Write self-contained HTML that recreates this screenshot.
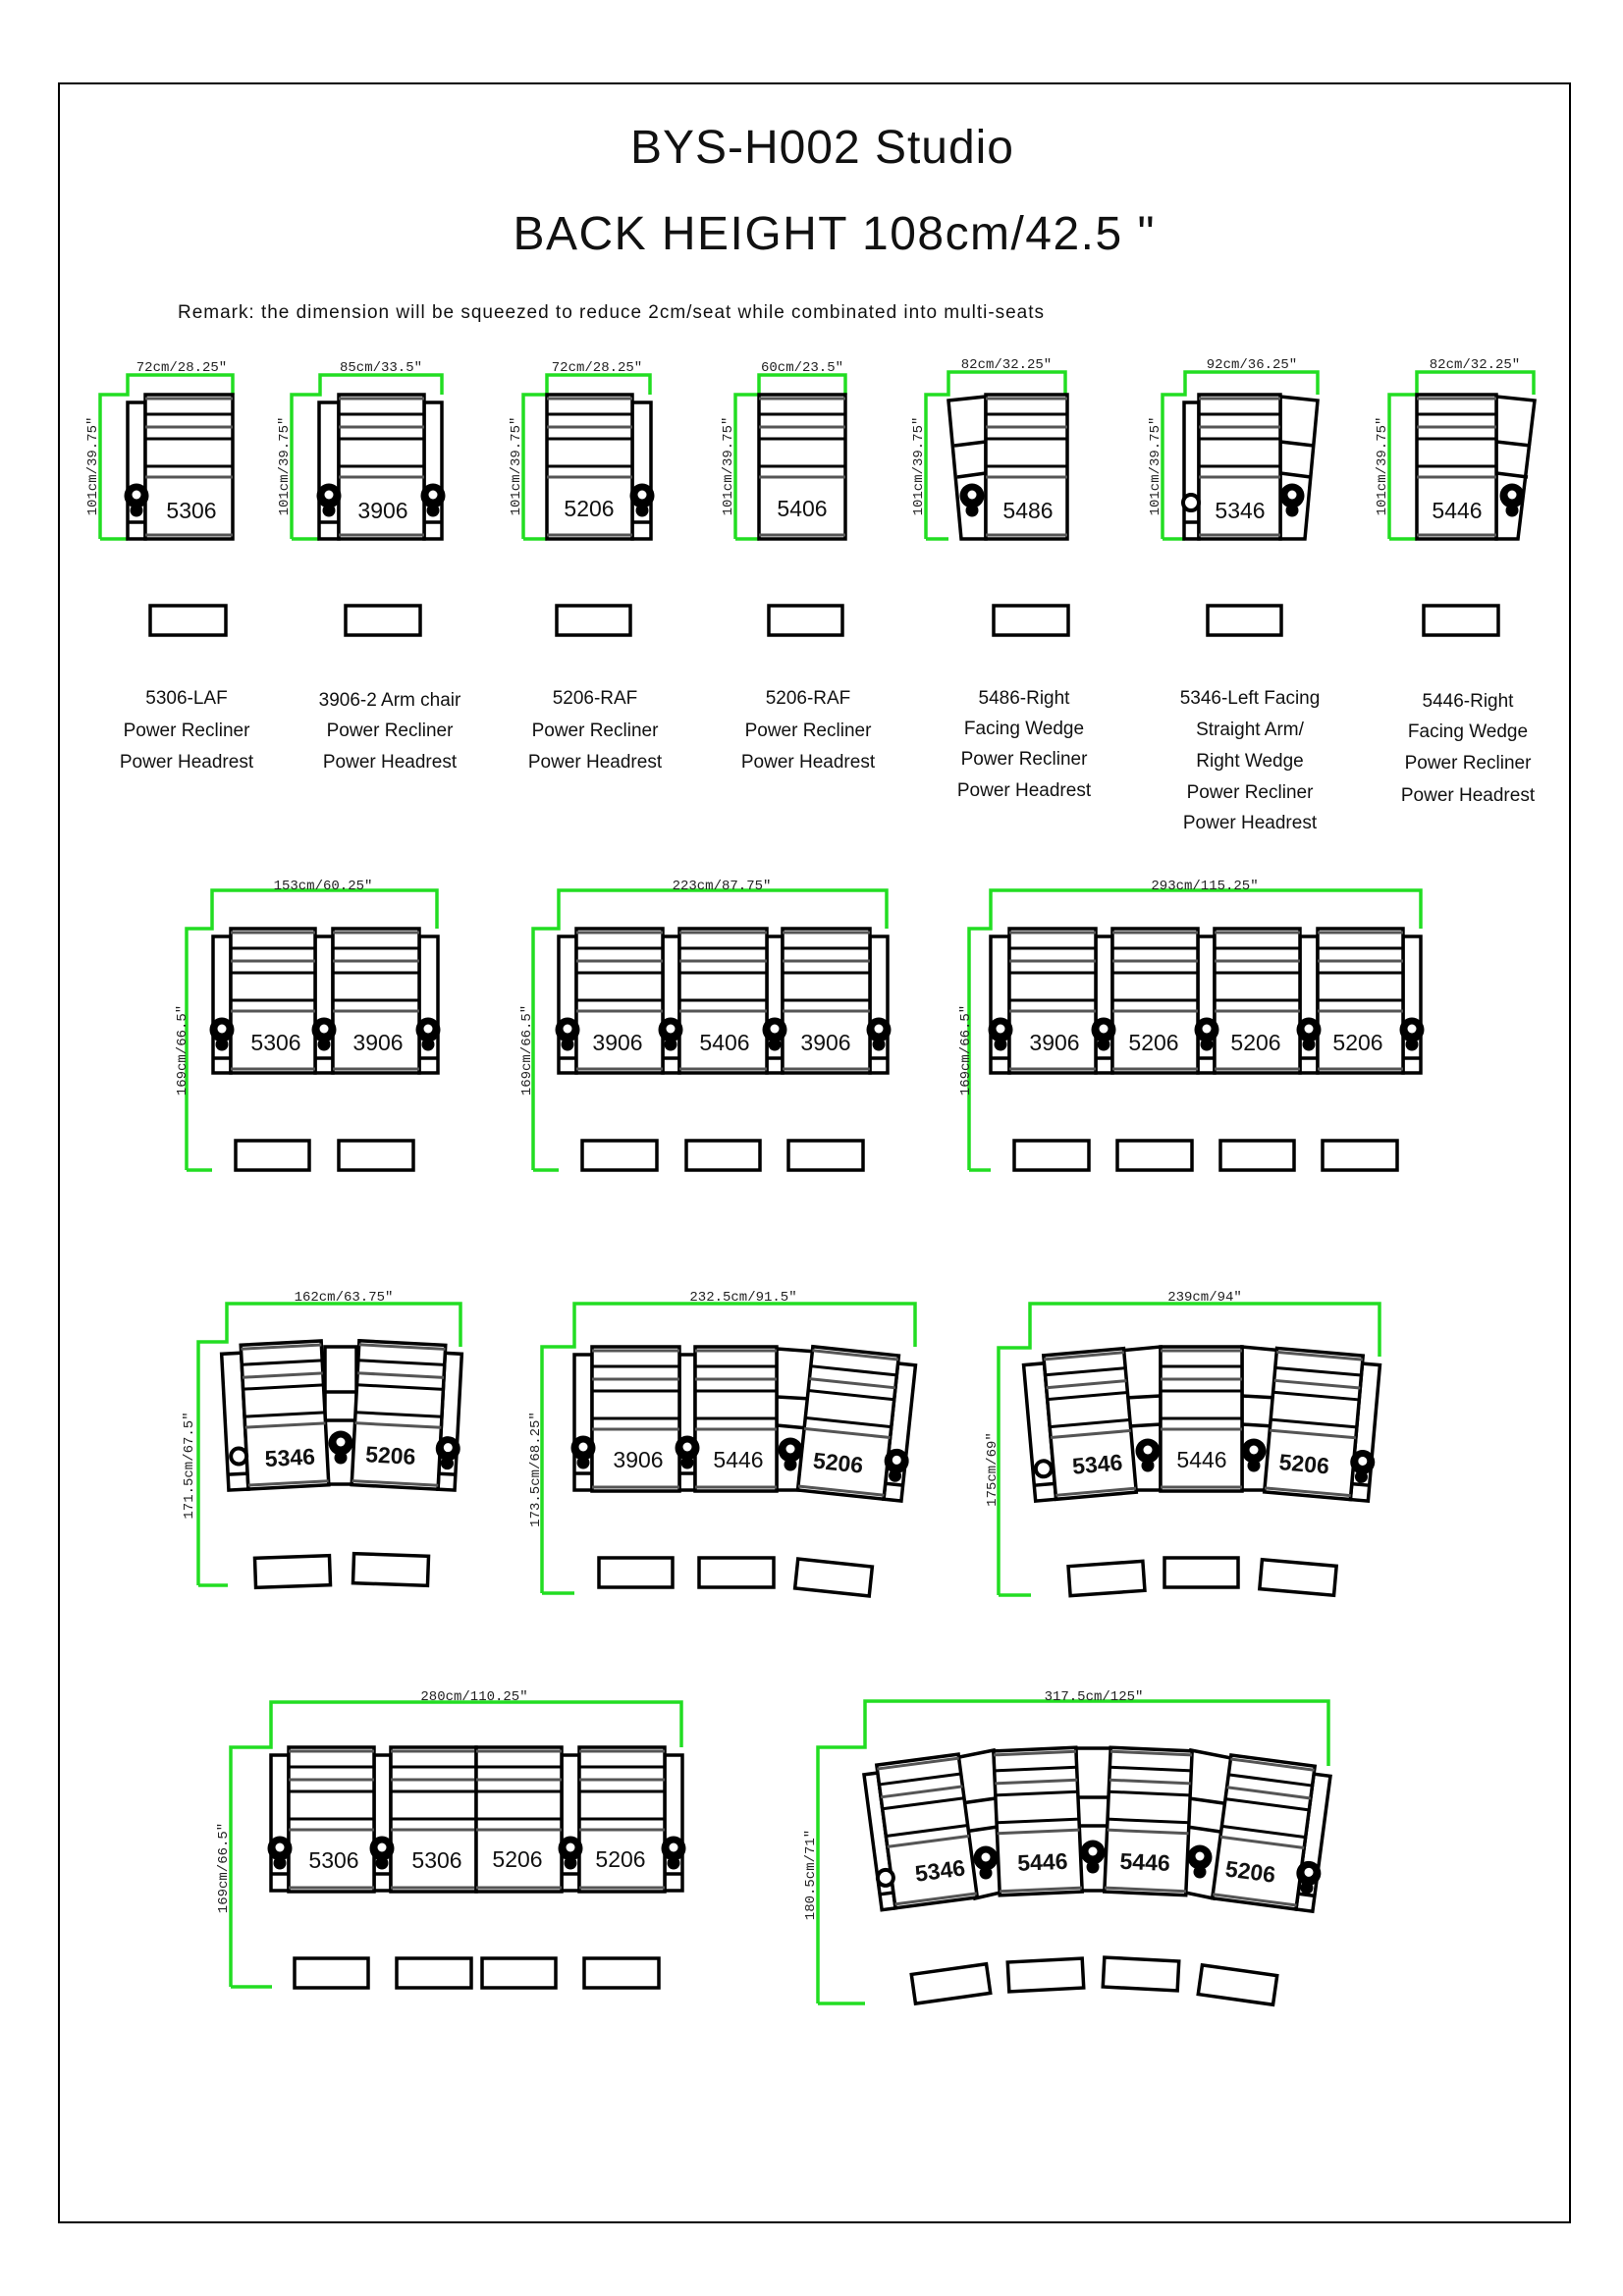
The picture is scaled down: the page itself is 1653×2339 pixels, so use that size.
<!DOCTYPE html>
<html><head><meta charset="utf-8"><style>
html,body{margin:0;padding:0;background:#fff}
svg{display:block}
.g{stroke:#22dd22;stroke-width:3.5;fill:none}
.d{font-family:"Liberation Mono",monospace;font-size:14px;fill:#222;text-anchor:middle}
.n{font-family:"Liberation Sans",sans-serif;font-size:23px;fill:#111;text-anchor:middle}
.b{font-family:"Liberation Sans",sans-serif;font-size:23px;font-weight:bold;fill:#111;text-anchor:middle}
.l{font-family:"Liberation Sans",sans-serif;font-size:19px;fill:#111;text-anchor:middle}
.a{fill:#fff;stroke:#000;stroke-width:3.5}
.o{fill:none;stroke:#000;stroke-width:3.5}
</style></head><body>
<svg width="1653" height="2339" viewBox="0 0 1653 2339" xmlns="http://www.w3.org/2000/svg">
<defs>
<g id="s">
<rect x="0" y="0" width="100" height="147" fill="#fff" stroke="#000" stroke-width="3.5" vector-effect="non-scaling-stroke"/>
<line x1="0" y1="4" x2="100" y2="4" stroke="#555" vector-effect="non-scaling-stroke" stroke-width="3"/>
<line x1="0" y1="20" x2="100" y2="20" stroke="#000" vector-effect="non-scaling-stroke" stroke-width="3"/>
<line x1="0" y1="33" x2="100" y2="33" stroke="#555" vector-effect="non-scaling-stroke" stroke-width="3"/>
<line x1="0" y1="45" x2="100" y2="45" stroke="#000" vector-effect="non-scaling-stroke" stroke-width="3"/>
<line x1="0" y1="73" x2="100" y2="73" stroke="#000" vector-effect="non-scaling-stroke" stroke-width="3"/>
<line x1="0" y1="84" x2="100" y2="84" stroke="#555" vector-effect="non-scaling-stroke" stroke-width="3"/>
<line x1="0" y1="143" x2="100" y2="143" stroke="#555" vector-effect="non-scaling-stroke" stroke-width="3"/>
</g>
<g id="k"><circle r="12.5" fill="#000"/><circle cy="-1" r="4.5" fill="#fff"/><circle cy="15" r="6.5" fill="#000"/></g>
<g id="r"><circle r="8" fill="#fff" stroke="#000" stroke-width="4"/></g>
</defs>

<rect x="60" y="85" width="1539" height="2179" fill="none" stroke="#000" stroke-width="2"/>

<text x="837" y="166" font-family="Liberation Sans, sans-serif" font-size="48" text-anchor="middle" textLength="390" fill="#111">BYS-H002 Studio</text>
<text x="849" y="254" font-family="Liberation Sans, sans-serif" font-size="48" text-anchor="middle" textLength="653" fill="#111">BACK HEIGHT 108cm/42.5 "</text>
<text x="181" y="324" font-family="Liberation Sans, sans-serif" font-size="19" textLength="882" fill="#111">Remark: the dimension will be squeezed to reduce 2cm/seat while combinated into multi-seats</text>

<!-- ROW 1 -->
<path class="g" d="M102 549 V402 H130 V382 H237 V402 M102 549 H130"/>
<text class="d" x="185" y="378">72cm/28.25"</text>
<text class="d" transform="translate(98,475) rotate(-90)">101cm/39.75"</text>
<rect class="a" x="130" y="410" width="18" height="139"/><line class="o" x1="130" y1="532" x2="148" y2="532"/>
<use href="#s" transform="translate(148,402) scale(0.89,1)"/>
<use href="#k" x="139" y="505"/>
<text class="n" x="195" y="528">5306</text>
<rect class="o" x="153" y="617" width="77" height="30"/>
<text class="l" x="190" y="717">5306-LAF</text><text class="l" x="190" y="750">Power Recliner</text><text class="l" x="190" y="782">Power Headrest</text>

<path class="g" d="M297 549 V402 H326 V382 H450 V402 M297 549 H325"/>
<text class="d" x="388" y="378">85cm/33.5"</text>
<text class="d" transform="translate(293,475) rotate(-90)">101cm/39.75"</text>
<rect class="a" x="325" y="410" width="20" height="139"/><line class="o" x1="325" y1="532" x2="345" y2="532"/>
<rect class="a" x="432" y="410" width="18" height="139"/><line class="o" x1="432" y1="532" x2="450" y2="532"/>
<use href="#s" transform="translate(345,402) scale(0.87,1)"/>
<use href="#k" x="335" y="505"/><use href="#k" x="441" y="505"/>
<text class="n" x="390" y="528">3906</text>
<rect class="o" x="352" y="617" width="76" height="30"/>
<text class="l" x="397" y="719">3906-2 Arm chair</text><text class="l" x="397" y="750">Power Recliner</text><text class="l" x="397" y="782">Power Headrest</text>

<path class="g" d="M533 549 V402 H557 V382 H662 V402 M533 549 H557"/>
<text class="d" x="608" y="378">72cm/28.25"</text>
<text class="d" transform="translate(529,475) rotate(-90)">101cm/39.75"</text>
<rect class="a" x="644" y="410" width="19" height="139"/><line class="o" x1="644" y1="532" x2="663" y2="532"/>
<use href="#s" transform="translate(557,402) scale(0.87,1)"/>
<use href="#k" x="654" y="505"/>
<text class="n" x="600" y="526">5206</text>
<rect class="o" x="567" y="617" width="75" height="30"/>
<text class="l" x="606" y="717">5206-RAF</text><text class="l" x="606" y="750">Power Recliner</text><text class="l" x="606" y="782">Power Headrest</text>

<path class="g" d="M749 549 V402 H773 V382 H861 V402 M749 549 H773"/>
<text class="d" x="817" y="378">60cm/23.5"</text>
<text class="d" transform="translate(745,475) rotate(-90)">101cm/39.75"</text>
<use href="#s" transform="translate(773,402) scale(0.88,1)"/>
<text class="n" x="817" y="526">5406</text>
<rect class="o" x="783" y="617" width="75" height="30"/>
<text class="l" x="823" y="717">5206-RAF</text><text class="l" x="823" y="750">Power Recliner</text><text class="l" x="823" y="782">Power Headrest</text>

<!-- 5486 -->
<path class="g" d="M943 549 V402 H966 V379 H1085 V402 M943 549 H966"/>
<text class="d" x="1025" y="375">82cm/32.25"</text>
<text class="d" transform="translate(939,475) rotate(-90)">101cm/39.75"</text>
<polygon class="a" points="966,408 1004,404 1004,549 979,549"/>
<polyline class="o" points="972,454 1004,450"/><polyline class="o" points="975,486 1004,482"/>
<use href="#s" transform="translate(1004,402) scale(0.83,1)"/>
<use href="#k" x="990" y="505"/>
<text class="n" x="1047" y="528">5486</text>
<rect class="o" x="1012" y="617" width="76" height="30"/>
<text class="l" x="1043" y="717">5486-Right</text><text class="l" x="1043" y="748">Facing Wedge</text><text class="l" x="1043" y="779">Power Recliner</text><text class="l" x="1043" y="811">Power Headrest</text>

<!-- 5346 -->
<path class="g" d="M1184 549 V402 H1207 V379 H1342 V402 M1184 549 H1207"/>
<text class="d" x="1275" y="375">92cm/36.25"</text>
<text class="d" transform="translate(1180,475) rotate(-90)">101cm/39.75"</text>
<rect class="a" x="1206" y="410" width="15" height="139"/><line class="o" x1="1206" y1="532" x2="1221" y2="532"/>
<polygon class="a" points="1304,404 1342,408 1329,549 1304,549"/>
<polyline class="o" points="1304,450 1338,454"/><polyline class="o" points="1304,482 1335,486"/>
<use href="#s" transform="translate(1221,402) scale(0.83,1)"/>
<use href="#r" x="1213" y="512"/><use href="#k" x="1316" y="505"/>
<text class="n" x="1263" y="528">5346</text>
<rect class="o" x="1230" y="617" width="75" height="30"/>
<text class="l" x="1273" y="717">5346-Left Facing</text><text class="l" x="1273" y="749">Straight Arm/</text><text class="l" x="1273" y="781">Right  Wedge</text><text class="l" x="1273" y="813">Power Recliner</text><text class="l" x="1273" y="844">Power Headrest</text>

<!-- 5446 -->
<path class="g" d="M1415 549 V402 H1443 V379 H1562 V402 M1415 549 H1443"/>
<text class="d" x="1502" y="375">82cm/32.25"</text>
<text class="d" transform="translate(1411,475) rotate(-90)">101cm/39.75"</text>
<polygon class="a" points="1524,404 1563,408 1546,549 1524,549"/>
<polyline class="o" points="1524,450 1559,454"/><polyline class="o" points="1524,482 1556,486"/>
<use href="#s" transform="translate(1443,402) scale(0.81,1)"/>
<use href="#k" x="1540" y="505"/>
<text class="n" x="1484" y="528">5446</text>
<rect class="o" x="1450" y="617" width="76" height="30"/>
<text class="l" x="1495" y="720">5446-Right</text><text class="l" x="1495" y="751">Facing Wedge</text><text class="l" x="1495" y="783">Power Recliner</text><text class="l" x="1495" y="816">Power Headrest</text>

<!-- ROW 2 -->
<!-- A -->
<path class="g" d="M190 1192 V946 H216 V907 H445 V946 M190 1192 H216"/>
<text class="d" x="329" y="906">153cm/60.25"</text>
<text class="d" transform="translate(189,1070) rotate(-90)">169cm/66.5"</text>
<rect class="a" x="217" y="954" width="18" height="139"/><line class="o" x1="217" y1="1078" x2="235" y2="1078"/>
<rect class="a" x="321" y="954" width="18" height="139"/><line class="o" x1="321" y1="1078" x2="339" y2="1078"/>
<rect class="a" x="427" y="954" width="19" height="139"/><line class="o" x1="427" y1="1078" x2="446" y2="1078"/>
<use href="#s" transform="translate(235,946) scale(0.86,1)"/>
<use href="#s" transform="translate(339,946) scale(0.88,1)"/>
<use href="#k" x="226" y="1049"/><use href="#k" x="330" y="1049"/><use href="#k" x="436" y="1049"/>
<text class="n" x="281" y="1070">5306</text><text class="n" x="385" y="1070">3906</text>
<rect class="o" x="240" y="1162" width="75" height="30"/><rect class="o" x="345" y="1162" width="76" height="30"/>

<!-- B -->
<path class="g" d="M543 1192 V946 H569 V907 H903 V946 M543 1192 H569"/>
<text class="d" x="735" y="906">223cm/87.75"</text>
<text class="d" transform="translate(540,1070) rotate(-90)">169cm/66.5"</text>
<rect class="a" x="569" y="954" width="18" height="139"/><line class="o" x1="569" y1="1078" x2="587" y2="1078"/>
<rect class="a" x="675" y="954" width="17" height="139"/><line class="o" x1="675" y1="1078" x2="692" y2="1078"/>
<rect class="a" x="781" y="954" width="16" height="139"/><line class="o" x1="781" y1="1078" x2="797" y2="1078"/>
<rect class="a" x="886" y="954" width="18" height="139"/><line class="o" x1="886" y1="1078" x2="904" y2="1078"/>
<use href="#s" transform="translate(587,946) scale(0.88,1)"/>
<use href="#s" transform="translate(692,946) scale(0.89,1)"/>
<use href="#s" transform="translate(797,946) scale(0.89,1)"/>
<use href="#k" x="578" y="1049"/><use href="#k" x="683" y="1049"/><use href="#k" x="789" y="1049"/><use href="#k" x="895" y="1049"/>
<text class="n" x="629" y="1070">3906</text><text class="n" x="738" y="1070">5406</text><text class="n" x="841" y="1070">3906</text>
<rect class="o" x="593" y="1162" width="76" height="30"/><rect class="o" x="699" y="1162" width="75" height="30"/><rect class="o" x="803" y="1162" width="76" height="30"/>

<!-- C -->
<path class="g" d="M987 1192 V946 H1009 V907 H1447 V946 M987 1192 H1009"/>
<text class="d" x="1227" y="906">293cm/115.25"</text>
<text class="d" transform="translate(987,1070) rotate(-90)">169cm/66.5"</text>
<rect class="a" x="1009" y="954" width="19" height="139"/><line class="o" x1="1009" y1="1078" x2="1028" y2="1078"/>
<rect class="a" x="1116" y="954" width="17" height="139"/><line class="o" x1="1116" y1="1078" x2="1133" y2="1078"/>
<rect class="a" x="1220" y="954" width="17" height="139"/><line class="o" x1="1220" y1="1078" x2="1237" y2="1078"/>
<rect class="a" x="1324" y="954" width="18" height="139"/><line class="o" x1="1324" y1="1078" x2="1342" y2="1078"/>
<rect class="a" x="1429" y="954" width="18" height="139"/><line class="o" x1="1429" y1="1078" x2="1447" y2="1078"/>
<use href="#s" transform="translate(1028,946) scale(0.88,1)"/>
<use href="#s" transform="translate(1133,946) scale(0.87,1)"/>
<use href="#s" transform="translate(1237,946) scale(0.87,1)"/>
<use href="#s" transform="translate(1342,946) scale(0.87,1)"/>
<use href="#k" x="1019" y="1049"/><use href="#k" x="1124" y="1049"/><use href="#k" x="1229" y="1049"/><use href="#k" x="1333" y="1049"/><use href="#k" x="1438" y="1049"/>
<text class="n" x="1074" y="1070">3906</text><text class="n" x="1175" y="1070">5206</text><text class="n" x="1279" y="1070">5206</text><text class="n" x="1383" y="1070">5206</text>
<rect class="o" x="1033" y="1162" width="76" height="30"/><rect class="o" x="1138" y="1162" width="76" height="30"/><rect class="o" x="1243" y="1162" width="75" height="30"/><rect class="o" x="1347" y="1162" width="76" height="30"/>

<!-- ROW 3 -->
<path class="g" d="M202 1615 V1367 H231 V1328 H469 V1372 M202 1615 H232"/>
<text class="d" x="350" y="1325">162cm/63.75"</text>
<text class="d" transform="translate(196,1493) rotate(-90)">171.5cm/67.5"</text>
<rect class="a" x="331" y="1372" width="32" height="140"/><line class="o" x1="331" y1="1418" x2="363" y2="1418"/><line class="o" x1="331" y1="1447" x2="363" y2="1447"/>
<use href="#k" x="347" y="1470"/>
<g transform="translate(290,1441) rotate(-3)">
<rect class="a" x="-61" y="-65" width="20" height="139"/><line class="o" x1="-61" y1="58" x2="-41" y2="58"/>
<use href="#s" transform="translate(-41,-73) scale(0.82,1)"/>
<use href="#r" x="-49" y="40"/>
<text class="b" x="3" y="52">5346</text>
</g>
<g transform="translate(406,1441) rotate(3)">
<rect class="a" x="44" y="-65" width="17" height="139"/><line class="o" x1="44" y1="58" x2="61" y2="58"/>
<use href="#s" transform="translate(-44,-73) scale(0.88,1)"/>
<use href="#k" x="52" y="32"/>
<text class="b" x="-6" y="50">5206</text>
</g>
<rect class="o" x="260" y="1586" width="76" height="30" transform="rotate(-2 298 1601)"/>
<rect class="o" x="360" y="1584" width="76" height="30" transform="rotate(2 398 1599)"/>

<path class="g" d="M552 1623 V1372 H585 V1328 H932 V1372 M552 1623 H585"/>
<text class="d" x="757" y="1325">232.5cm/91.5"</text>
<text class="d" transform="translate(549,1497) rotate(-90)">173.5cm/68.25"</text>
<rect class="a" x="585" y="1380" width="18" height="138"/><line class="o" x1="585" y1="1501" x2="603" y2="1501"/>
<rect class="a" x="692" y="1380" width="16" height="138"/><line class="o" x1="692" y1="1501" x2="708" y2="1501"/>
<polygon class="a" points="791,1374 832,1377 818,1518 791,1518"/>
<line class="o" x1="791" y1="1423" x2="826" y2="1425"/><line class="o" x1="791" y1="1452" x2="823" y2="1455"/>
<use href="#k" x="805" y="1477"/>
<use href="#s" transform="translate(603,1372) scale(0.89,1)"/>
<use href="#s" transform="translate(708,1372) scale(0.83,1)"/>
<use href="#k" x="594" y="1475"/><use href="#k" x="700" y="1475"/>
<text class="n" x="650" y="1495">3906</text><text class="n" x="752" y="1495">5446</text>
<g transform="translate(864,1449) rotate(6)">
<rect class="a" x="44" y="-65" width="18" height="139"/><line class="o" x1="44" y1="58" x2="62" y2="58"/>
<use href="#s" transform="translate(-44,-73) scale(0.88,1)"/>
<use href="#k" x="53" y="34"/>
<text class="b" x="-6" y="50">5206</text>
</g>
<rect class="o" x="610" y="1587" width="75" height="30"/><rect class="o" x="712" y="1587" width="76" height="30"/>
<rect class="o" x="811" y="1592" width="76" height="30" transform="rotate(6 849 1607)"/>

<path class="g" d="M1017 1625 V1373 H1049 V1328 H1405 V1382 M1017 1625 H1050"/>
<text class="d" x="1227" y="1325">239cm/94"</text>
<text class="d" transform="translate(1014,1497) rotate(-90)">175cm/69"</text>
<polygon class="a" points="1140,1376 1182,1372 1182,1518 1156,1518"/>
<line class="o" x1="1146" y1="1424" x2="1182" y2="1422"/><line class="o" x1="1149" y1="1453" x2="1182" y2="1451"/>
<use href="#k" x="1169" y="1478"/>
<polygon class="a" points="1265,1372 1307,1376 1290,1518 1265,1518"/>
<line class="o" x1="1265" y1="1422" x2="1301" y2="1424"/><line class="o" x1="1265" y1="1451" x2="1298" y2="1453"/>
<use href="#k" x="1277" y="1478"/>
<use href="#s" transform="translate(1182,1372) scale(0.83,1)"/>
<text class="n" x="1224" y="1495">5446</text>
<g transform="translate(1110,1450) rotate(-5)">
<rect class="a" x="-62" y="-65" width="21" height="139"/><line class="o" x1="-62" y1="58" x2="-41" y2="58"/>
<use href="#s" transform="translate(-41,-73) scale(0.82,1)"/>
<use href="#r" x="-51" y="42"/>
<text class="b" x="4" y="50">5346</text>
</g>
<g transform="translate(1338,1450) rotate(5)">
<rect class="a" x="44" y="-65" width="18" height="139"/><line class="o" x1="44" y1="58" x2="62" y2="58"/>
<use href="#s" transform="translate(-44,-73) scale(0.88,1)"/>
<use href="#k" x="53" y="35"/>
<text class="b" x="-6" y="50">5206</text>
</g>
<rect class="o" x="1089" y="1593" width="76" height="30" transform="rotate(-4 1127 1608)"/>
<rect class="o" x="1186" y="1587" width="75" height="30"/>
<rect class="o" x="1284" y="1592" width="76" height="30" transform="rotate(5 1322 1607)"/>

<!-- ROW 4 -->
<path class="g" d="M235 2024 V1780 H276 V1734 H694 V1780 M235 2024 H277"/>
<text class="d" x="483" y="1732">280cm/110.25"</text>
<text class="d" transform="translate(231,1903) rotate(-90)">169cm/66.5"</text>
<rect class="a" x="276" y="1788" width="18" height="138"/><line class="o" x1="276" y1="1909" x2="294" y2="1909"/>
<rect class="a" x="381" y="1788" width="17" height="138"/><line class="o" x1="381" y1="1909" x2="398" y2="1909"/>
<rect class="a" x="572" y="1788" width="18" height="138"/><line class="o" x1="572" y1="1909" x2="590" y2="1909"/>
<rect class="a" x="677" y="1788" width="18" height="138"/><line class="o" x1="677" y1="1909" x2="695" y2="1909"/>
<use href="#s" transform="translate(294,1780) scale(0.87,1)"/>
<use href="#s" transform="translate(398,1780) scale(0.87,1)"/>
<use href="#s" transform="translate(485,1780) scale(0.87,1)"/>
<use href="#s" transform="translate(590,1780) scale(0.87,1)"/>
<use href="#k" x="285" y="1883"/><use href="#k" x="389" y="1883"/><use href="#k" x="581" y="1883"/><use href="#k" x="686" y="1883"/>
<text class="n" x="340" y="1903">5306</text><text class="n" x="445" y="1903">5306</text><text class="n" x="527" y="1902">5206</text><text class="n" x="632" y="1902">5206</text>
<rect class="o" x="300" y="1995" width="75" height="30"/><rect class="o" x="404" y="1995" width="76" height="30"/><rect class="o" x="491" y="1995" width="75" height="30"/><rect class="o" x="595" y="1995" width="76" height="30"/>

<!-- G2 -->
<path class="g" d="M833 2041 V1780 H881 V1733 H1353 V1799 M833 2041 H881"/>
<text class="d" x="1114" y="1732">317.5cm/125"</text>
<text class="d" transform="translate(829,1910) rotate(-90)">180.5cm/71"</text>
<polygon class="a" points="972,1791 1012,1783 1019,1928 993,1934"/>
<line class="o" x1="979" y1="1837" x2="1014" y2="1832"/><line class="o" x1="982" y1="1866" x2="1016" y2="1861"/>
<use href="#k" x="1004" y="1893"/>
<rect class="a" x="1096" y="1781" width="36" height="145"/>
<line class="o" x1="1096" y1="1831" x2="1132" y2="1831"/><line class="o" x1="1096" y1="1860" x2="1132" y2="1860"/>
<use href="#k" x="1113" y="1887"/>
<polygon class="a" points="1213,1783 1254,1791 1236,1934 1207,1928"/>
<line class="o" x1="1211" y1="1832" x2="1246" y2="1837"/><line class="o" x1="1209" y1="1861" x2="1243" y2="1866"/>
<use href="#k" x="1222" y="1892"/>
<g transform="translate(1057,1855) rotate(-2.5)">
<use href="#s" transform="translate(-42,-73) scale(0.84,1)"/>
<text class="b" x="3" y="50">5446</text>
</g>
<g transform="translate(1170,1855) rotate(2.5)">
<use href="#s" transform="translate(-42,-73) scale(0.83,1)"/>
<text class="b" x="-2" y="50">5446</text>
</g>
<g transform="translate(944,1865) rotate(-7.5)">
<rect class="a" x="-56" y="-65" width="14" height="139"/><line class="o" x1="-56" y1="58" x2="-42" y2="58"/>
<use href="#s" transform="translate(-42,-73) scale(0.84,1)"/>
<use href="#r" x="-48" y="42"/>
<text class="b" x="8" y="50">5346</text>
</g>
<g transform="translate(1287,1866) rotate(7.5)">
<rect class="a" x="43" y="-65" width="17" height="139"/><line class="o" x1="43" y1="58" x2="60" y2="58"/>
<use href="#s" transform="translate(-43,-73) scale(0.86,1)"/>
<use href="#k" x="51" y="36"/>
<text class="b" x="-8" y="50">5206</text>
</g>
<rect class="o" x="930" y="2006" width="77" height="30" transform="rotate(-8 968 2021)"/>
<rect class="o" x="1027" y="1997" width="76" height="30" transform="rotate(-3 1065 2012)"/>
<rect class="o" x="1124" y="1996" width="76" height="30" transform="rotate(3 1162 2011)"/>
<rect class="o" x="1222" y="2007" width="77" height="30" transform="rotate(8 1260 2022)"/>
</svg>
</body></html>
